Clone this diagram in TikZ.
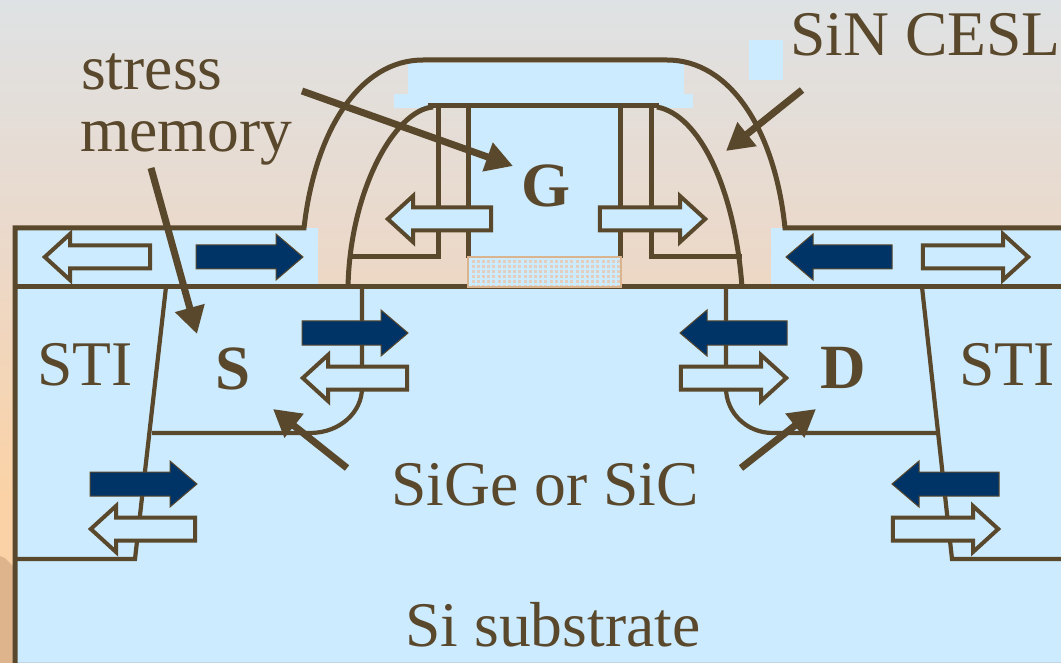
\documentclass[tikz,border=0pt]{standalone}
\usepackage{fontspec}
\setmainfont{Liberation Serif}
\usetikzlibrary{arrows.meta}
\definecolor{ink}{RGB}{90,72,44}
\definecolor{pale}{RGB}{204,235,254}
\definecolor{navy}{RGB}{0,51,102}
\definecolor{bgA}{RGB}{222,226,228}
\definecolor{bgB}{RGB}{236,216,200}
\definecolor{bgC}{RGB}{251,210,165}
\definecolor{hill}{RGB}{221,180,140}
\definecolor{oxide}{RGB}{217,180,143}
\definecolor{speck}{RGB}{226,206,190}
\tikzset{
  x=1pt,y=-1pt,
  wall/.style={draw=ink,line width=5pt,line join=miter},
  thin wall/.style={draw=ink,line width=4.2pt},
  patch/.style={fill=pale,draw=none},
  hollow/.style={draw=ink,fill=pale,line width=4pt,line join=miter,miter limit=4},
  solid/.style={draw=ink,fill=navy,line width=1pt,line join=miter},
  leader/.style={draw=ink,line width=7pt,-{Triangle[length=27pt,width=29pt]}},
  label/.style={text=ink,font=\fontsize{63.6}{66}\selectfont,inner sep=0pt},
  tag/.style={text=ink,font=\fontsize{63}{66}\selectfont\bfseries,inner sep=0pt},
}
% #1 style, #2 tail x, #3 tip x, #4 y centre
\newcommand{\blockarrow}[4]{%
  \pgfmathsetmacro{\dirn}{(#3>#2)?1:-1}%
  \pgfmathsetmacro{\neck}{#3-\dirn*27}%
  \draw[#1] (#2,#4-12) -- (\neck,#4-12) -- (\neck,#4-23) -- (#3,#4) -- (\neck,#4+23) -- (\neck,#4+12) -- (#2,#4+12) -- cycle;}
\newcommand{\hollowarrow}[3]{%
  \pgfmathsetmacro{\dirn}{(#2>#1)?1:-1}%
  \pgfmathsetmacro{\tailx}{#1+\dirn*1.8}%
  \pgfmathsetmacro{\tipx}{#2-\dirn*1.8}%
  \pgfmathsetmacro{\neck}{#2-\dirn*27}%
  \draw[hollow] (\tailx,#3-11.5) -- (\neck,#3-11.5) -- (\neck,#3-23) -- (\tipx,#3) -- (\neck,#3+23) -- (\neck,#3+11.5) -- (\tailx,#3+11.5) -- cycle;}
\begin{document}
\begin{tikzpicture}
\useasboundingbox (0,0) rectangle (1061,663);
% background
\fill[top color=bgA,bottom color=bgB] (0,0) rectangle (1061,262);
\fill[top color=bgB,bottom color=bgC] (0,261) rectangle (1061,500);
\fill[bgC] (0,499) rectangle (1061,663);
\fill[hill] (0,556) -- (5,558) -- (15,568) -- (15,663) -- (0,663) -- cycle;
% pale areas
\fill[patch] (15,287) rectangle (1061,663);
\fill[patch] (15,228) rectangle (318,287);
\fill[patch] (771,228) rectangle (1061,287);
\fill[patch] (468,105) rectangle (620,258);
\fill[patch] (408,63) rectangle (684,100);
\fill[patch] (394,94) rectangle (693,108);
\fill[patch] (749,40) rectangle (783,80);
\draw[pale!80!gray,line width=1pt] (15,662.5) -- (1061,662.5);
% outlines
\draw[wall] (15,663) -- (15,228) -- (304,228) .. controls (315,130) and (360,60) .. (423,60) -- (667,60) .. controls (730,60) and (775,130) .. (785,228) -- (1061,228);
\draw[wall] (13,287) -- (1061,287);
\draw[wall] (348,287) .. controls (350,190) and (395,110) .. (433,107);
\draw[wall] (742,287) .. controls (735,190) and (700,115) .. (657,107);
\draw[wall] (428,106) -- (659,106);
\draw[wall] (468,106) -- (468,258);
\draw[wall] (620,106) -- (620,258);
\draw[wall] (348,257) -- (438,257) -- (438,106);
\draw[wall] (742,257) -- (651,257) -- (651,106);
% gate dielectric
\fill[pale] (468,257) rectangle (621,287);
\foreach \col in {0,...,28}{
  \foreach \row in {0,...,5}{
    \fill[speck] (471.5+\col*5.2,260.5+\row*5) rectangle +(3,3);
  }
}
\draw[oxide,line width=2.5pt] (468,257) rectangle (621,287);
% junctions and trench edges
\draw[thin wall] (166,287) -- (135,559) -- (15,559);
\draw[thin wall] (152,433) -- (310,433) .. controls (340,433) and (362,412) .. (362,388) -- (362,287);
\draw[thin wall] (922,287) -- (952,559) -- (1061,559);
\draw[thin wall] (937,433) -- (773,433) .. controls (746,433) and (726,412) .. (726,388) -- (726,287);
% stress arrows
\hollowarrow{152}{43}{257}
\blockarrow{solid}{196}{303}{257}
\blockarrow{solid}{302}{408}{333}
\hollowarrow{409}{301}{378}
\blockarrow{solid}{90}{197}{484}
\hollowarrow{197}{89}{529}
\hollowarrow{493}{386}{219}
\hollowarrow{598}{707}{219}
\blockarrow{solid}{892}{786}{257}
\hollowarrow{921}{1030}{257}
\blockarrow{solid}{787}{680}{333}
\hollowarrow{679}{788}{378}
\blockarrow{solid}{999}{892}{484}
\hollowarrow{891}{1000}{529}
% labels
\node[label,anchor=base west] (stress) at (81,90) {stress};
\node[label,anchor=base west] (memory) at (80,152) {memory};
\node[label,anchor=base west] (cesl) at (790,56) {SiN CESL};
\node[tag] (gate) at (546,186) {G};
\node[tag] (source) at (233,369) {S};
\node[tag] (drain) at (843,368) {D};
\node[label,anchor=base] (stiL) at (85,385) {STI};
\node[label,anchor=base] (stiR) at (1007,385) {STI};
\node[label,anchor=base] (sige) at (545,505) {SiGe or SiC};
\node[label,anchor=base] (sub) at (553,646) {Si substrate};
% leaders
\coordinate (a1) at (302,91);   \coordinate (t1) at (513,166);
\coordinate (a2) at (151,168);  \coordinate (t2) at (197,334);
\coordinate (a3) at (802,90);   \coordinate (t3) at (726,151);
\coordinate (a4) at (347,468);  \coordinate (t4) at (273,409);
\coordinate (a5) at (741,468);  \coordinate (t5) at (816,409);
\draw[leader] (a1) -- (t1);
\draw[leader] (a2) -- (t2);
\draw[leader] (a3) -- (t3);
\draw[leader] (a4) -- (t4);
\draw[leader] (a5) -- (t5);
\end{tikzpicture}
\end{document}
